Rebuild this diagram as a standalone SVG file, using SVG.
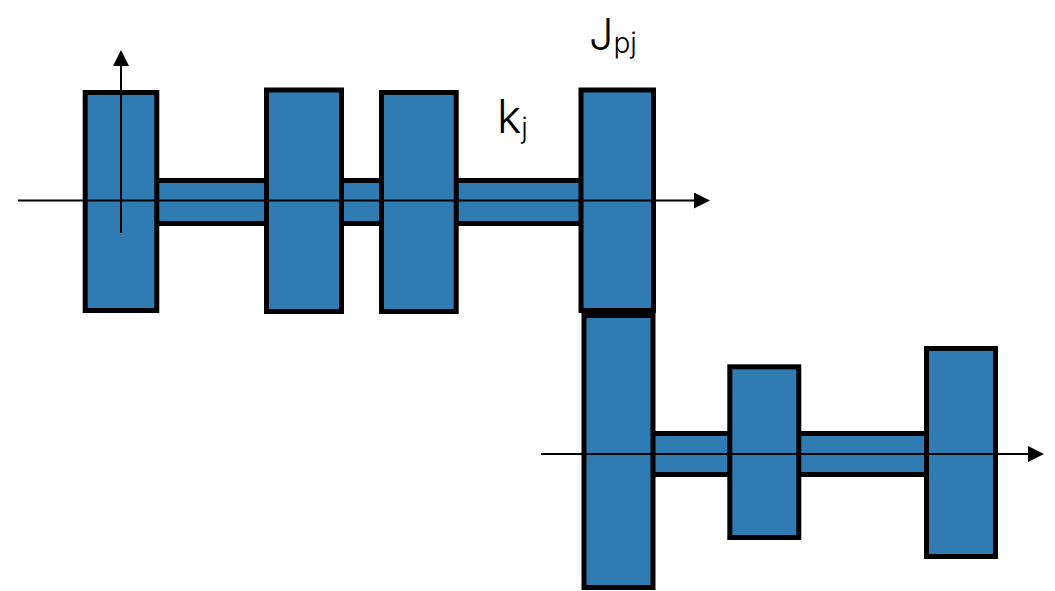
<svg xmlns="http://www.w3.org/2000/svg" width="1055" height="591" viewBox="0 0 1055 591">
<defs>
<style>
.part{fill:#2f7bb2;stroke:#000;stroke-width:5}
.axis{stroke:#000;stroke-width:2;fill:none}
.lbl{font-family:Inter,"Liberation Sans",sans-serif;font-weight:300;fill:#000}
</style>
<marker id="ah" viewBox="0 0 16 16" refX="1" refY="8" markerWidth="16" markerHeight="16" markerUnits="userSpaceOnUse" orient="auto">
<path d="M0,0 L16,8 L0,16 Z" fill="#000"/>
</marker>
</defs>
<rect width="1055" height="591" fill="#fff"/>
<g id="shaft-upper"><rect class="part" x="150" y="180.5" width="440" height="43"/></g>
<g id="shaft-lower"><rect class="part" x="648" y="433.5" width="285" height="41"/></g>
<g id="disk-1"><rect class="part" x="85.2" y="92.5" width="71.6" height="218"/></g>
<g id="disk-2"><rect class="part" x="266.5" y="90" width="75" height="221.5"/></g>
<g id="disk-3"><rect class="part" x="381.5" y="92.5" width="74.7" height="219"/></g>
<g id="disk-4"><rect class="part" x="581" y="90" width="72.5" height="220.5"/></g>
<g id="disk-5"><rect class="part" x="584" y="315.5" width="69" height="272"/></g>
<g id="disk-6"><rect class="part" x="729.8" y="366.8" width="69" height="170.7"/></g>
<g id="disk-7"><rect class="part" x="926.5" y="348.5" width="69" height="208"/></g>
<g id="connectors">
<line class="axis" x1="18" y1="200.5" x2="695" y2="200.5" marker-end="url(#ah)"/>
<line class="axis" x1="121" y1="233" x2="121" y2="65" marker-end="url(#ah)"/>
<line class="axis" x1="541" y1="454" x2="1029" y2="454" marker-end="url(#ah)"/>
</g>
<g id="label-Jpj"><text class="lbl" x="589" y="50" font-size="43">J<tspan font-size="28" dy="3">pj</tspan></text></g>
<g id="label-kj"><text class="lbl" x="497" y="133" font-size="46">k<tspan font-size="28" dy="5">j</tspan></text></g>
</svg>
